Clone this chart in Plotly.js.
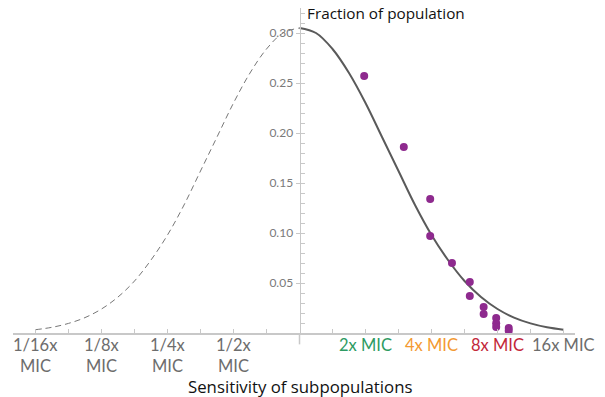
<!DOCTYPE html>
<html>
<head>
<meta charset="utf-8">
<script src="https://cdn.plot.ly/plotly-3.0.1.min.js"></script>
<style>html,body{margin:0;padding:0;background:#fff;}#chart{width:605px;height:397px;}</style>
</head>
<body>
<div id="chart"></div>
<script>
// Fitted distribution curve (x in log2 units of MIC)
var curveX = [0, 0.25, 0.5, 0.75, 1, 1.25, 1.5, 1.75, 2, 2.25, 2.5, 2.75, 3, 3.25, 3.5, 3.75, 4];
var curveY = [0.305, 0.300, 0.284, 0.260, 0.230, 0.196, 0.162, 0.128, 0.098, 0.073, 0.052, 0.036, 0.024, 0.0154, 0.0096, 0.0057, 0.0033];
// Dashed (hypothetical) left half
var dashX = [-4, -3.75, -3.5, -3.25, -3, -2.75, -2.5, -2.25, -2, -1.75, -1.5, -1.25, -1, -0.75, -0.5, -0.25, 0];
var dashY = [0.0033, 0.0057, 0.0096, 0.0154, 0.024, 0.036, 0.052, 0.073, 0.098, 0.128, 0.162, 0.196, 0.230, 0.260, 0.284, 0.300, 0.305];
// Measured subpopulations
var dotX = [0.98, 1.58, 1.98, 1.98, 2.31, 2.58, 2.58, 2.79, 2.79, 2.98, 2.98, 2.98, 3.17, 3.17];
var dotY = [0.257, 0.186, 0.134, 0.097, 0.070, 0.051, 0.037, 0.026, 0.019, 0.015, 0.0097, 0.006, 0.005, 0.0023];
// Axis labels
var xTickVals = [-4, -3, -2, -1, 1, 2, 3, 4];
var xTickLine1 = ['1/16x', '1/8x', '1/4x', '1/2x', '2x MIC', '4x MIC', '8x MIC', '16x MIC'];
var xTickLine2 = ['MIC', 'MIC', 'MIC', 'MIC', '', '', '', ''];
var xTickColors = ['#6d6d6d', '#6d6d6d', '#6d6d6d', '#6d6d6d', '#2e9b63', '#f39a32', '#c3283a', '#6d6d6d'];
var xAllTicks = [-4, -3.5, -3, -2.5, -2, -1.5, -1, -0.5, 0.5, 1, 1.5, 2, 2.5, 3, 3.5, 4];
var yTickVals = [0.05, 0.10, 0.15, 0.20, 0.25, 0.30];

var axisCol = '#c8c8c8';
var FONT = 'Lato, "Open Sans", sans-serif';
var TFONT = '"Open Sans", Lato, sans-serif';

var traces = [
  {x: dashX, y: dashY, type: 'scatter', mode: 'lines', line: {color: '#777', width: 1, dash: '6px,4px', shape: 'spline'}, hoverinfo: 'skip'},
  {x: curveX, y: curveY, type: 'scatter', mode: 'lines', line: {color: '#5a5a5a', width: 2, shape: 'spline'}, hoverinfo: 'skip'},
  {x: dotX, y: dotY, type: 'scatter', mode: 'markers', marker: {color: '#8e2a8e', size: 8}, cliponaxis: false}
];

var annotations = [
  {text: 'Fraction of population', xref: 'x', yref: 'paper', x: 0, y: 0.9845, xshift: 5, xanchor: 'left', yanchor: 'middle', showarrow: false, font: {family: TFONT, size: 15.3, color: '#111'}},
  {text: 'Sensitivity of subpopulations', xref: 'x', yref: 'paper', x: 0, y: -0.165, xanchor: 'center', yanchor: 'middle', showarrow: false, font: {family: TFONT, size: 16.8, color: '#111'}}
];
for (var i = 0; i < xTickVals.length; i++) {
  annotations.push({text: xTickLine1[i], xref: 'x', yref: 'paper', x: xTickVals[i], y: -0.036, xanchor: 'center', yanchor: 'middle', showarrow: false, font: {family: FONT, size: 16.5, color: xTickColors[i]}});
  if (xTickLine2[i]) {
    annotations.push({text: xTickLine2[i], xref: 'x', yref: 'paper', x: xTickVals[i], y: -0.101, xanchor: 'center', yanchor: 'middle', showarrow: false, font: {family: FONT, size: 16.5, color: xTickColors[i]}});
  }
}

var layout = {
  width: 605, height: 397,
  margin: {l: 13, r: 30, t: 8, b: 64},
  paper_bgcolor: '#fff', plot_bgcolor: '#fff',
  showlegend: false,
  font: {family: FONT},
  xaxis: {
    range: [-4.341, 4.174], showgrid: false, zeroline: false,
    showline: true, linecolor: axisCol, linewidth: 1.5,
    tickmode: 'array', tickvals: xAllTicks, showticklabels: false,
    ticks: 'inside', ticklen: 4, tickcolor: axisCol, tickwidth: 1
  },
  yaxis: {
    range: [0, 0.325], anchor: 'free', position: 0.5098, side: 'left',
    showgrid: false, zeroline: false,
    showline: true, linecolor: axisCol, linewidth: 1.5,
    tickmode: 'array', tickvals: yTickVals, tickformat: '.2f',
    ticks: 'outside', ticklen: 4, tickcolor: axisCol,
    minor: {dtick: 0.01, ticks: 'inside', ticklen: 4, tickcolor: axisCol, showgrid: false},
    tickfont: {family: FONT, size: 12, color: '#7a7a7a'}
  },
  shapes: [
    {type: 'line', xref: 'x', yref: 'paper', x0: 0, x1: 0, y0: 0, y1: -0.035, line: {color: axisCol, width: 1.5}}
  ],
  annotations: annotations
};

Plotly.newPlot('chart', traces, layout, {displayModeBar: false, staticPlot: true});
</script>
</body>
</html>
